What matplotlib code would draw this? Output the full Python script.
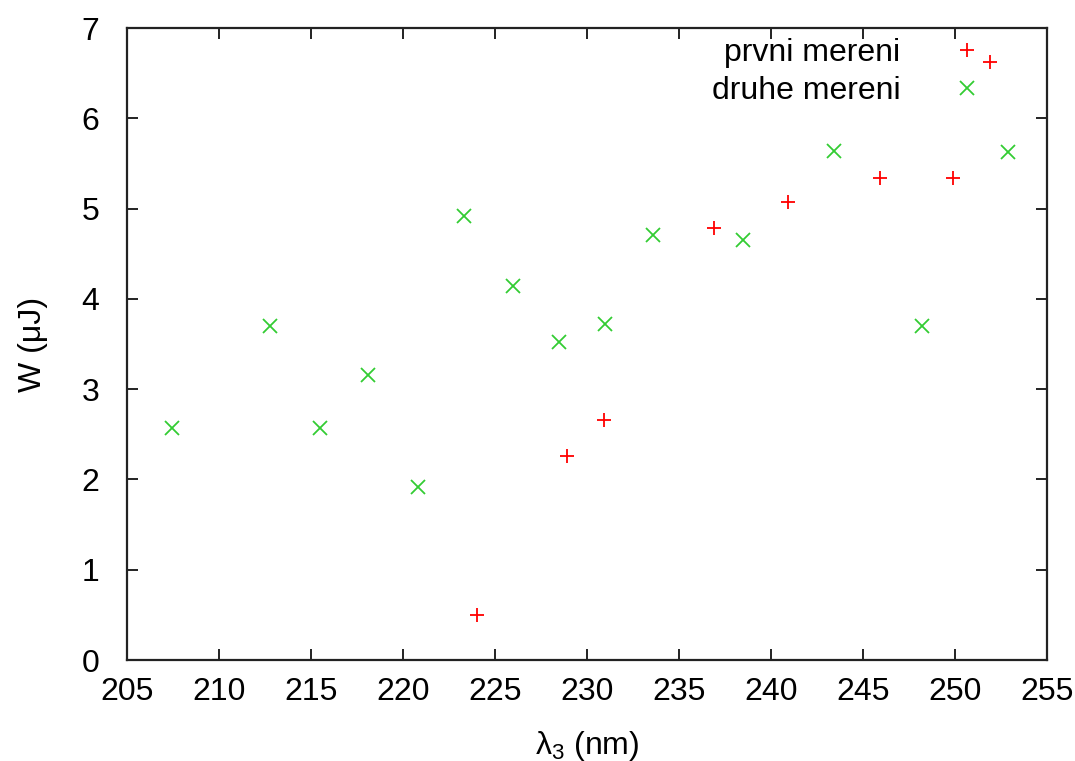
import matplotlib
matplotlib.use("Agg")
import matplotlib.pyplot as plt

plt.rcParams['font.family'] = ['Liberation Sans', 'DejaVu Sans']
plt.rcParams['mathtext.default'] = 'regular'

# prvni mereni (red +)
x1 = [224.0, 228.9, 230.9, 236.9, 240.9, 245.9, 249.9, 251.9]
y1 = [0.50, 2.26, 2.66, 4.78, 5.07, 5.34, 5.34, 6.62]

# druhe mereni (green x)
x2 = [207.45, 212.8, 215.5, 218.1, 220.8, 223.3, 226.0, 228.5, 231.0, 233.6, 238.5, 243.4, 248.2, 252.9]
y2 = [2.57, 3.70, 2.57, 3.16, 1.92, 4.92, 4.14, 3.52, 3.72, 4.71, 4.65, 5.64, 3.70, 5.63]

xticks = [205, 210, 215, 220, 225, 230, 235, 240, 245, 250, 255]
yticks = [0, 1, 2, 3, 4, 5, 6, 7]

fig = plt.figure(figsize=(10.75, 7.61), dpi=100)
ax = fig.add_axes([0.118, 0.1327, 0.856, 0.8305])

ax.plot(x1, y1, linestyle='none', marker='+', color='#ff0000', markersize=10, markeredgewidth=1.3, label='prvni mereni')
ax.plot(x2, y2, linestyle='none', marker='x', color='#33cc33', markersize=9.5, markeredgewidth=1.3, label='druhe mereni')

ax.set_xlim(205, 255)
ax.set_ylim(0, 7)
ax.set_xticks(xticks)
ax.set_yticks(yticks)
ax.tick_params(direction='in', length=8, width=1.4, labelsize=23, top=True, right=True, colors='#222222', labelcolor='black')
ax.tick_params(axis='x', pad=12)
ax.tick_params(axis='y', pad=20)
for s in ax.spines.values():
    s.set_linewidth(1.6)
    s.set_color('#222222')

ax.set_xlabel(r'$\lambda_3$ (nm)', fontsize=23, labelpad=16)
ax.set_ylabel('W (\u03bcJ)', fontsize=23, labelpad=24)

leg = ax.legend(loc='upper right', bbox_to_anchor=(0.9585, 1.025), frameon=False, fontsize=23,
                markerfirst=False, handlelength=1.0, handletextpad=1.6, labelspacing=0.25, borderpad=0.3)
for t in leg.get_texts():
    t.set_ha('right')

fig.savefig('out.png', dpi=100)
